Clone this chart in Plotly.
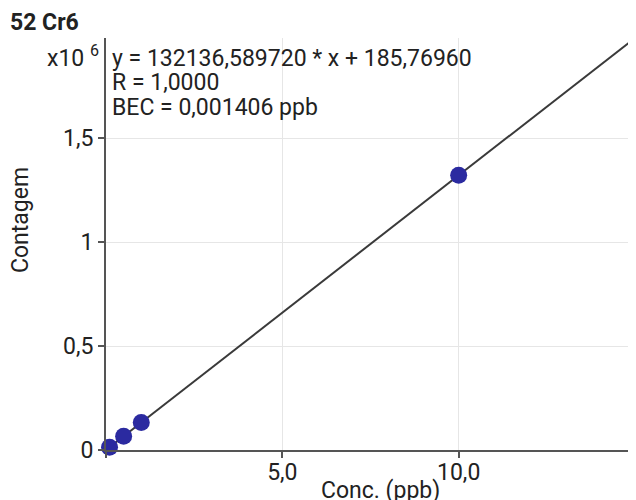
import plotly.graph_objects as go

# Calibration data (concentration in ppb, counts)
conc = [0.1, 0.5, 1.0, 10.0]
counts = [13400, 66250, 132320, 1321550]

# Regression line endpoints
line_x = [0.0, 15.0]
line_y = [185.77, 1982234.6]

x_tickvals = [0, 5, 10, 15]
x_ticktext = ["", "5,0", "10,0", ""]
y_tickvals = [0, 500000, 1000000, 1500000]
y_ticktext = ["0", "0,5", "1", "1,5"]

eq_lines = ["y = 132136,589720 * x + 185,76960", "R = 1,0000", "BEC = 0,001406 ppb"]

FONT = "Roboto"
TXT = "#222222"
FS = 23

W, H = 628, 492
L, R, T, B = 98, 1, 30, 50
PW, PH = W - L - R, H - T - B


def px(x):
    return (x - L) / PW


def py(y):
    return (H - B - y) / PH


fig = go.Figure()
fig.add_trace(go.Scatter(x=line_x, y=line_y, mode="lines",
                         line=dict(color="#3a3a3a", width=2), showlegend=False, hoverinfo="skip"))
fig.add_trace(go.Scatter(x=conc, y=counts, mode="markers",
                         marker=dict(color="#2b2aa0", size=17), showlegend=False, cliponaxis=False))

fig.update_layout(
    width=W, height=H,
    margin=dict(l=L, r=R, t=T, b=B, autoexpand=False),
    paper_bgcolor="white", plot_bgcolor="white",
    font=dict(family=FONT, size=FS, color=TXT),
    separators=",.",
    xaxis=dict(range=[0, 15], tickvals=x_tickvals, ticktext=x_ticktext,
               showgrid=True, gridcolor="#e6e6e6", gridwidth=1,
               showline=True, linecolor="#555555", linewidth=2,
               ticks="outside", ticklen=6, tickcolor="#555555", tickwidth=2,
               ticklabelstandoff=-6,
               zeroline=False, automargin=False, tickfont=dict(size=FS)),
    yaxis=dict(range=[0, 1982234.6], tickvals=y_tickvals, ticktext=y_ticktext,
               showgrid=True, gridcolor="#e6e6e6", gridwidth=1,
               showline=True, linecolor="#555555", linewidth=2,
               ticks="outside", ticklen=6, tickcolor="#555555", tickwidth=2,
               zeroline=False, automargin=False, tickfont=dict(size=FS)),
)

fig.add_annotation(text="<b>52 Cr6</b>", xref="paper", yref="paper", x=px(0), y=py(15),
                   xanchor="left", yanchor="middle", showarrow=False, font=dict(size=FS, color=TXT))
fig.add_annotation(text="x10 <sup>6</sup>", xref="paper", yref="paper", x=px(93), y=py(49),
                   xanchor="right", yanchor="middle", showarrow=False, font=dict(size=FS, color=TXT))
for i, t in enumerate(eq_lines):
    fig.add_annotation(text=t, xref="paper", yref="paper", x=px(102), y=py(51 + 24 * i),
                       xanchor="left", yanchor="middle", showarrow=False, font=dict(size=FS, color=TXT))
fig.add_annotation(text="Contagem", xref="paper", yref="paper", x=px(12), y=py(212), textangle=-90,
                   xanchor="center", yanchor="middle", showarrow=False, font=dict(size=FS, color=TXT))
fig.add_annotation(text="Conc. (ppb)", xref="paper", yref="paper", x=px(372), y=py(482),
                   xanchor="center", yanchor="middle", showarrow=False, font=dict(size=FS, color=TXT))

fig.write_html("out.html")
